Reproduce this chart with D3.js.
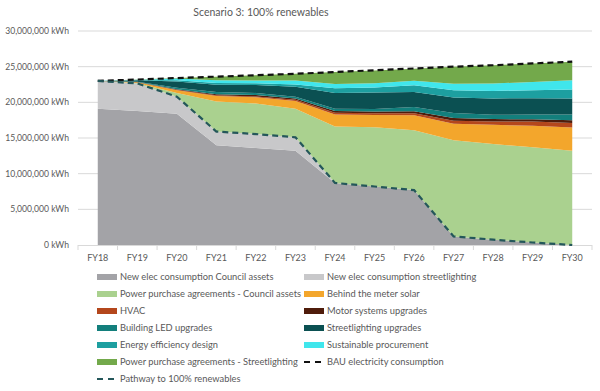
<!DOCTYPE html>
<html><head><meta charset="utf-8">
<script src="https://cdn.jsdelivr.net/npm/d3@7/dist/d3.min.js"></script>
<style>
body{margin:0;background:#fff;}
text{font-family:Lato,"Open Sans",sans-serif;fill:#595959;}
</style></head>
<body><svg id="c" width="600" height="391"></svg>
<script>
const years = ["FY18","FY19","FY20","FY21","FY22","FY23","FY24","FY25","FY26","FY27","FY28","FY29","FY30"];
const yTicks = [0, 5e6, 10e6, 15e6, 20e6, 25e6, 30e6];
// series values, million kWh
const councilAssets   = [19.1, 18.8, 18.4, 14.0, 13.6, 13.2, 8.7, 8.2, 7.7, 1.2, 0.75, 0.35, 0];
const streetlighting  = [3.9, 3.85, 2.4, 1.9, 1.95, 1.9, 0, 0, 0, 0, 0, 0, 0];
const ppaCouncil      = [0, 0.05, 0.5, 4.2, 4.3, 4.0, 7.9, 8.3, 8.4, 13.5, 13.4, 13.35, 13.2];
const btmSolar        = [0, 0.1, 0.4, 0.8, 0.85, 1.1, 1.7, 1.74, 2.1, 2.3, 2.7, 3.0, 3.27];
const hvac            = [0, 0.02, 0.05, 0.1, 0.12, 0.15, 0.25, 0.23, 0.28, 0.42, 0.47, 0.6, 0.65];
const motorSystems    = [0, 0.02, 0.08, 0.15, 0.2, 0.2, 0.23, 0.23, 0.28, 0.37, 0.33, 0.33, 0.37];
const buildingLED     = [0, 0.05, 0.2, 0.3, 0.3, 0.25, 0.33, 0.38, 0.6, 0.7, 0.6, 0.65, 0.8];
const slUpgrades      = [0, 0.2, 0.9, 1.0, 1.1, 1.4, 2.2, 2.3, 2.1, 2.2, 2.3, 2.3, 2.24];
const eeDesign        = [0, 0.03, 0.15, 0.25, 0.25, 0.3, 0.65, 0.7, 0.95, 1.0, 1.05, 1.12, 1.26];
const sustProcurement = [0, 0.05, 0.25, 0.4, 0.4, 0.55, 0.6, 0.6, 0.6, 0.9, 1.05, 1.15, 1.3];
const ppaStreetlight  = [0, 0.03, 0.07, 0.5, 0.73, 0.95, 1.7, 1.8, 1.7, 2.4, 2.55, 2.6, 2.6];
const bau             = [23.0, 23.2, 23.4, 23.6, 23.8, 24.0, 24.25, 24.5, 24.75, 25.0, 25.2, 25.45, 25.7];
const pathway         = [23.0, 22.65, 20.8, 15.9, 15.55, 15.1, 8.7, 8.2, 7.7, 1.2, 0.75, 0.35, 0];

const areaSeries = [
  {name:"New elec consumption Council assets", values:councilAssets, color:"#a3a3a7"},
  {name:"New elec consumption streetlighting", values:streetlighting, color:"#c8c8ca"},
  {name:"Power purchase agreements - Council assets", values:ppaCouncil, color:"#aad18f"},
  {name:"Behind the meter solar", values:btmSolar, color:"#f3a62c"},
  {name:"HVAC", values:hvac, color:"#b4471c"},
  {name:"Motor systems upgrades", values:motorSystems, color:"#4f1c0b"},
  {name:"Building LED upgrades", values:buildingLED, color:"#137f7c"},
  {name:"Streetlighting upgrades", values:slUpgrades, color:"#0b5052"},
  {name:"Energy efficiency design", values:eeDesign, color:"#1d9fa0"},
  {name:"Sustainable procurement", values:sustProcurement, color:"#40e6ec"},
  {name:"Power purchase agreements - Streetlighting", values:ppaStreetlight, color:"#73a94b"}
];
const lineSeries = [
  {name:"BAU electricity consumption", values:bau, color:"#111111"},
  {name:"Pathway to 100% renewables", values:pathway, color:"#24575a"}
];

const svg = d3.select("#c");
const M = 1e6;
const x = d3.scaleBand().domain(years).range([78, 592]);
const cx = d => x(d) + x.bandwidth()/2;
const y = d3.scaleLinear().domain([0, 30e6]).range([245, 31]);

svg.append("text").attr("x", 261).attr("y", 16).attr("text-anchor","middle")
  .style("font-size","10.5px").text("Scenario 3: 100% renewables");

// gridlines
svg.append("g").selectAll("line").data(yTicks.filter(t=>t>0)).join("line")
  .attr("x1",78).attr("x2",592).attr("y1",d=>y(d)).attr("y2",d=>y(d))
  .attr("stroke","#d9d9d9").attr("stroke-width",1);

// y labels
svg.append("g").selectAll("text").data(yTicks).join("text")
  .attr("x",69).attr("y",d=>y(d)+3).attr("text-anchor","end")
  .style("font-size","8.6px").text(d=>d3.format(",")(d)+" kWh");

// stacked areas
const rows = years.map((yr,i)=>{const o={year:yr}; areaSeries.forEach((s,k)=>o["s"+k]=s.values[i]*M); return o;});
const stack = d3.stack().keys(areaSeries.map((s,k)=>"s"+k));
const stacked = stack(rows);
const area = d3.area().x(d=>cx(d.data.year)).y0(d=>y(d[0])).y1(d=>y(d[1]));
svg.append("g").selectAll("path").data(stacked).join("path")
  .attr("d",area).attr("fill",(d,i)=>areaSeries[i].color);

// x axis
svg.append("line").attr("x1",78).attr("x2",592).attr("y1",245.5).attr("y2",245.5).attr("stroke","#d9d9d9");
const bounds = years.map(d=>x(d)).concat([592]);
svg.append("g").selectAll("line").data(bounds).join("line")
  .attr("x1",d=>d).attr("x2",d=>d).attr("y1",245).attr("y2",250).attr("stroke","#d9d9d9");
svg.append("g").selectAll("text").data(years).join("text")
  .attr("x",d=>cx(d)).attr("y",261).attr("text-anchor","middle")
  .style("font-size","9px").text(d=>d);

// lines
const line = d3.line().x((d,i)=>cx(years[i])).y(d=>y(d*M));
svg.append("g").selectAll("path").data(lineSeries).join("path")
  .attr("d",d=>line(d.values)).attr("fill","none").attr("stroke",d=>d.color)
  .attr("stroke-width",2.2).attr("stroke-dasharray","6,4");

// legend
const legendItems = areaSeries.map(s=>({name:s.name,color:s.color,type:"area"}))
  .concat(lineSeries.map(s=>({name:s.name,color:s.color,type:"line"})));
const lg = svg.append("g");
legendItems.forEach((it,i)=>{
  const col = i%2, row = Math.floor(i/2);
  const lx = col===0 ? 97 : 304, ly = 277 + row*17;
  const g = lg.append("g").attr("transform",`translate(${lx},${ly})`);
  if(it.type==="area"){
    g.append("rect").attr("x",0).attr("y",-3).attr("width",20).attr("height",6).attr("fill",it.color);
  } else {
    g.append("line").attr("x1",0).attr("x2",20).attr("y1",0).attr("y2",0)
      .attr("stroke",it.color).attr("stroke-width",2.2).attr("stroke-dasharray","6,5");
  }
  g.append("text").attr("x",23).attr("y",3.3).style("font-size","9.3px").text(it.name);
});
</script></body></html>
